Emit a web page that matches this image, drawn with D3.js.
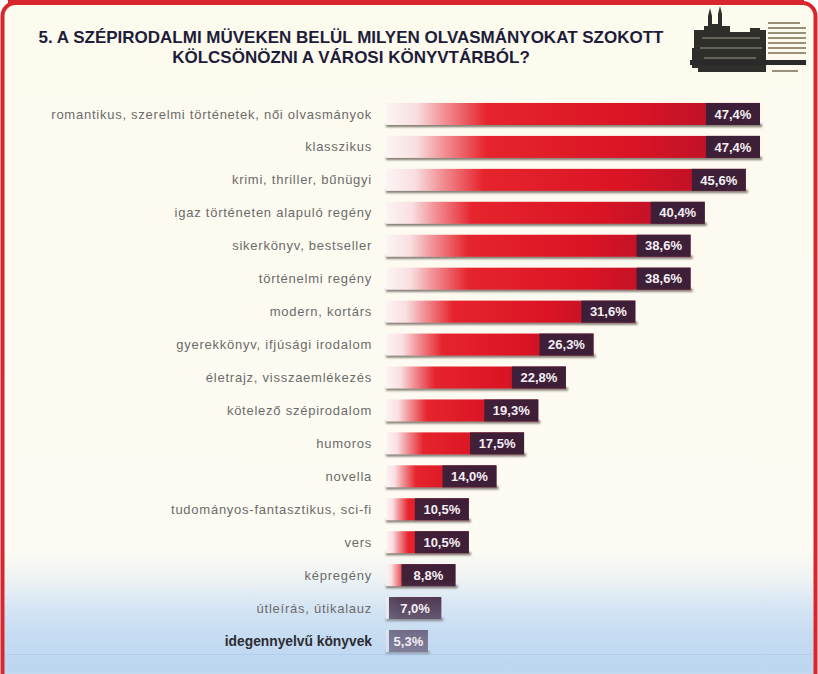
<!DOCTYPE html>
<html>
<head>
<meta charset="utf-8">
<script src="https://cdn.jsdelivr.net/npm/d3@7"></script>
<style>
  body { margin: 0; background: #fff; }
  svg { display: block; }
</style>
</head>
<body>
<svg id="chart" width="818" height="674"></svg>
<script>
// survey answers, top to bottom
const categories = [
  "romantikus, szerelmi történetek, női olvasmányok",
  "klasszikus",
  "krimi, thriller, bűnügyi",
  "igaz történeten alapuló regény",
  "sikerkönyv, bestseller",
  "történelmi regény",
  "modern, kortárs",
  "gyerekkönyv, ifjúsági irodalom",
  "életrajz, visszaemlékezés",
  "kötelező szépirodalom",
  "humoros",
  "novella",
  "tudományos-fantasztikus, sci-fi",
  "vers",
  "képregény",
  "útleírás, útikalauz",
  "idegennyelvű könyvek"
];
const values = [47.4, 47.4, 45.6, 40.4, 38.6, 38.6, 31.6, 26.3, 22.8, 19.3, 17.5, 14.0, 10.5, 10.5, 8.8, 7.0, 5.3];
const valueLabels = ["47,4%", "47,4%", "45,6%", "40,4%", "38,6%", "38,6%", "31,6%", "26,3%", "22,8%", "19,3%", "17,5%", "14,0%", "10,5%", "10,5%", "8,8%", "7,0%", "5,3%"];
const titleLines = [
  "5. A SZÉPIRODALMI MÜVEKEN BELÜL MILYEN OLVASMÁNYOKAT SZOKOTT",
  "KÖLCSÖNÖZNI A VÁROSI KÖNYVTÁRBÓL?"
];

const W = 818, H = 674;
const svg = d3.select("#chart");
const defs = svg.append("defs");

// background: cream fading to light blue at the bottom
const bg = defs.append("linearGradient").attr("id", "bg")
  .attr("x1", 0).attr("y1", 0).attr("x2", 0).attr("y2", 1);
bg.append("stop").attr("offset", "0").attr("stop-color", "#fdfaee");
bg.append("stop").attr("offset", "0.80").attr("stop-color", "#fdfbf3");
bg.append("stop").attr("offset", "0.89").attr("stop-color", "#dce9f5");
bg.append("stop").attr("offset", "1").attr("stop-color", "#bcd6ef");

// bar fill
const barGrad = defs.append("linearGradient").attr("id", "bar")
  .attr("x1", 0).attr("y1", 0).attr("x2", 1).attr("y2", 0);
barGrad.append("stop").attr("offset", "0").attr("stop-color", "#fcf4f5");
barGrad.append("stop").attr("offset", "0.08").attr("stop-color", "#f9dfe1");
barGrad.append("stop").attr("offset", "0.15").attr("stop-color", "#f2959a");
barGrad.append("stop").attr("offset", "0.27").attr("stop-color", "#e6242d");
barGrad.append("stop").attr("offset", "0.65").attr("stop-color", "#db1424");
barGrad.append("stop").attr("offset", "1").attr("stop-color", "#b0102a");

// blue haze over the bottom rows
const haze = defs.append("linearGradient").attr("id", "haze")
  .attr("x1", 0).attr("y1", 0).attr("x2", 0).attr("y2", 1);
haze.append("stop").attr("offset", "0").attr("stop-color", "#b8d4f0").attr("stop-opacity", 0);
haze.append("stop").attr("offset", "0.6").attr("stop-color", "#b8d4f0").attr("stop-opacity", 0.45);
haze.append("stop").attr("offset", "1").attr("stop-color", "#b8d4f0").attr("stop-opacity", 0.6);

defs.append("filter").attr("id", "blur")
  .attr("x", "-10%").attr("y", "-100%").attr("width", "120%").attr("height", "300%")
  .append("feGaussianBlur").attr("stdDeviation", 1);

defs.append("filter").attr("id", "soft")
  .append("feGaussianBlur").attr("stdDeviation", 0.6);

// frame
svg.append("rect").attr("width", W).attr("height", H).attr("fill", "#fff");
svg.append("rect")
  .attr("x", 2.5).attr("y", 3).attr("width", W - 5).attr("height", H + 10)
  .attr("rx", 13)
  .attr("fill", "url(#bg)")
  .attr("stroke", "#d9252d").attr("stroke-width", 4);
svg.append("rect").attr("x", 8).attr("y", 0).attr("width", W - 22).attr("height", 5).attr("fill", "#d9252d");
svg.append("line")
  .attr("x1", 6).attr("x2", W - 6).attr("y1", 654.5).attr("y2", 654.5)
  .attr("stroke", "#a9c6e4").attr("stroke-width", 1);

// title
svg.append("g").selectAll("text")
  .data(titleLines)
  .join("text")
  .attr("x", 351)
  .attr("y", (d, i) => 43 + i * 20)
  .attr("text-anchor", "middle")
  .attr("font-family", "Liberation Sans, Arial, sans-serif")
  .attr("font-weight", "bold")
  .attr("font-size", 17)
  .attr("fill", "#1d1d3a")
  .text(d => d);

// logo (rough silhouette of the town hall + caption lines)
const logo = svg.append("g").attr("transform", "translate(690,8)").attr("filter", "url(#soft)");
logo.append("path")
  .attr("d", "M4,22 H14 V18 H18 V8 L20,0 L22,8 V16 H28 V6 L30,-2 L32,6 V18 H40 V24 H60 V20 H70 V22 H76 V64 H8 V60 H2 V40 H4 Z")
  .attr("fill", "#2f2d2a");
logo.append("path")
  .attr("d", "M12,30 H70 M10,40 H72 M14,50 H66")
  .attr("stroke", "#7a7468").attr("stroke-width", 1.5).attr("fill", "none");
logo.append("rect").attr("x", 0).attr("y", 52).attr("width", 116).attr("height", 5).attr("fill", "#2b2b2b");
logo.selectAll(".ln")
  .data(d3.range(7))
  .join("rect")
  .attr("x", 78).attr("y", (d, i) => 14 + i * 5)
  .attr("width", (d, i) => i === 0 ? 32 : 38).attr("height", 2)
  .attr("fill", "#9a9078");
logo.append("rect").attr("x", 82).attr("y", 62).attr("width", 26).attr("height", 2).attr("fill", "#9a9078");

// scales
const x = d3.scaleLinear().domain([0, 50]).range([386, 386 + 50 * 7.89]);
const y = d3.scaleBand().domain(categories).range([97.5, 657.5]).paddingInner(0.332).paddingOuter(0.166);
const bw = y.bandwidth();

const data = categories.map((c, i) => ({ cat: c, value: values[i], label: valueLabels[i], i: i }));
const last = categories.length - 1;

const rows = svg.append("g").selectAll("g")
  .data(data)
  .join("g");

// shadow under each bar
rows.append("rect")
  .attr("x", x(0))
  .attr("y", d => y(d.cat) + bw - 1)
  .attr("width", d => x(d.value) - x(0) + 2)
  .attr("height", 3)
  .attr("fill", "#4a4038")
  .attr("opacity", 0.75)
  .attr("filter", "url(#blur)");

rows.append("rect")
  .attr("x", x(0))
  .attr("y", d => y(d.cat))
  .attr("width", d => x(d.value) - x(0))
  .attr("height", bw)
  .attr("fill", "url(#bar)");

// dark value box at bar end
const boxW = d => Math.min(54, x(d.value) - x(0) - 3);
rows.append("rect")
  .attr("x", d => x(d.value) - boxW(d))
  .attr("y", d => y(d.cat))
  .attr("width", boxW)
  .attr("height", bw)
  .attr("fill", "#33213a")
  .attr("opacity", 0.92);

// haze on lower part
svg.append("rect")
  .attr("x", 5).attr("y", 580).attr("width", W - 10).attr("height", 92)
  .attr("fill", "url(#haze)");

const texts = svg.append("g");

texts.selectAll(".val")
  .data(data)
  .join("text")
  .attr("class", "val")
  .attr("x", d => x(d.value) - boxW(d) / 2)
  .attr("y", d => y(d.cat) + bw / 2)
  .attr("dy", "0.36em")
  .attr("text-anchor", "middle")
  .attr("font-family", "Liberation Sans, Arial, sans-serif")
  .attr("font-weight", "bold")
  .attr("font-size", 13)
  .attr("fill", "#f4f0f4")
  .text(d => d.label);

// category labels
texts.selectAll(".cat")
  .data(data)
  .join("text")
  .attr("class", "cat")
  .attr("x", 372)
  .attr("y", d => y(d.cat) + bw / 2)
  .attr("dy", "0.35em")
  .attr("text-anchor", "end")
  .attr("font-family", d => d.i === last ? "Liberation Sans Narrow, Arial Narrow, sans-serif" : "Liberation Sans, Arial, sans-serif")
  .attr("font-weight", d => d.i === last ? "bold" : "normal")
  .attr("font-size", d => d.i === last ? 13.8 : 13)
  .attr("letter-spacing", d => d.i === last ? 0 : 0.75)
  .attr("fill", d => d.i === last ? "#2c2c34" : "#6b6b6b")
  .text(d => d.cat);
</script>
</body>
</html>
